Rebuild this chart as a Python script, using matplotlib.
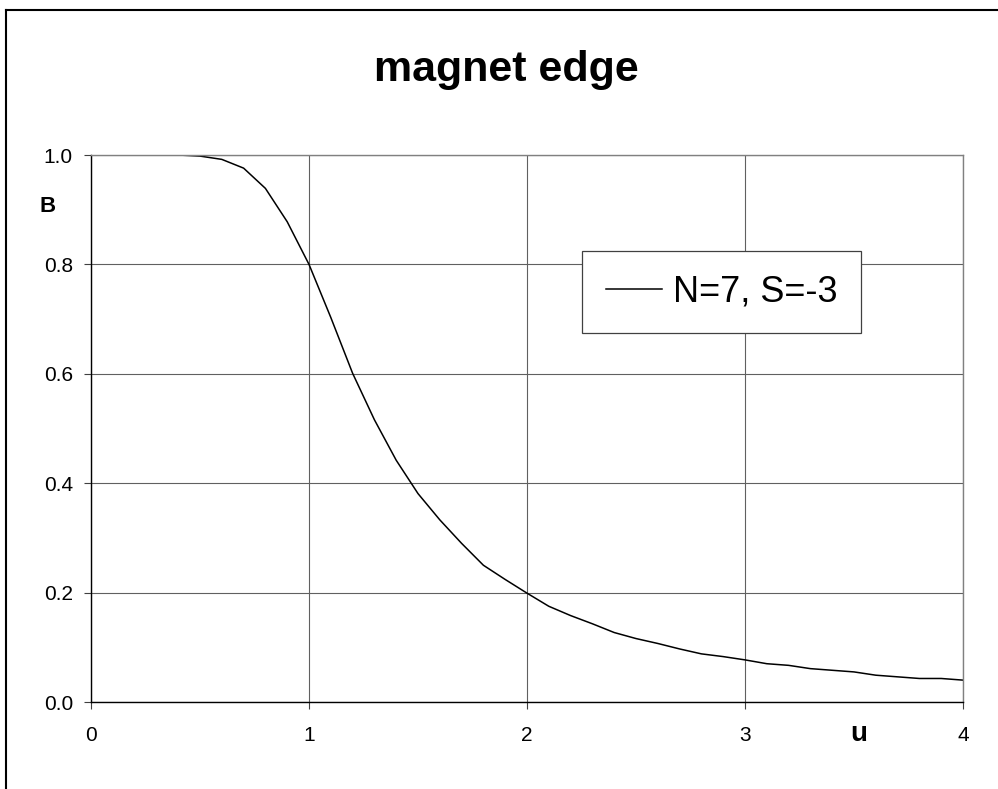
import numpy as np
import matplotlib.pyplot as plt
from matplotlib.lines import Line2D

plt.rcParams['font.family'] = ['Liberation Sans', 'DejaVu Sans']

# field profile at the magnet edge, sampled every 0.1 in u
u = [0.0, 0.1, 0.2, 0.3, 0.4, 0.5, 0.6, 0.7, 0.8, 0.9,
     1.0, 1.1, 1.2, 1.3, 1.4, 1.5, 1.6, 1.7, 1.8, 1.9,
     2.0, 2.1, 2.2, 2.3, 2.4, 2.5, 2.6, 2.7, 2.8, 2.9,
     3.0, 3.1, 3.2, 3.3, 3.4, 3.5, 3.6, 3.7, 3.8, 3.9, 4.0]
B = [1.000, 1.000, 1.000, 1.000, 1.000, 0.998, 0.992, 0.976, 0.939, 0.878,
     0.800, 0.703, 0.601, 0.516, 0.442, 0.381, 0.333, 0.290, 0.250, 0.224,
     0.199, 0.175, 0.158, 0.143, 0.127, 0.116, 0.107, 0.097, 0.088, 0.083,
     0.077, 0.070, 0.067, 0.061, 0.058, 0.055, 0.049, 0.046, 0.043, 0.043, 0.040]
serie = 'N=7, S=-3'
xticks = [0, 1, 2, 3, 4]
yticks = [0.0, 0.2, 0.4, 0.6, 0.8, 1.0]

W, H = 998, 789
fig = plt.figure(figsize=(W / 100, H / 100), dpi=100)
ax = fig.add_axes([91 / W, 87 / H, 872 / W, 547 / H])

ax.plot(u, B, color='black', lw=1.1, label=serie)

ax.set_xlim(0, 4)
ax.set_ylim(0, 1)
ax.set_xticks(xticks)
ax.set_yticks(yticks)
ax.set_xticklabels([str(t) for t in xticks])
ax.set_yticklabels([f'{t:.1f}' for t in yticks])
ax.tick_params(axis='both', direction='out', length=5, width=0.8, color='#404040', labelsize=15)
ax.tick_params(axis='x', pad=12)
ax.tick_params(axis='y', pad=8)

ax.grid(True, color='#606060', lw=0.8)
ax.set_axisbelow(True)
for s in ['left', 'bottom']:
    ax.spines[s].set_color('black')
    ax.spines[s].set_linewidth(1.0)
for s in ['top', 'right']:
    ax.spines[s].set_color('#808080')
    ax.spines[s].set_linewidth(1.0)

leg = ax.legend(loc='center', bbox_to_anchor=(0.723, 0.75), fontsize=26,
                fancybox=False, framealpha=1, edgecolor='#404040',
                handlelength=1.55, handletextpad=0.3, borderpad=0.65)
leg.get_frame().set_linewidth(0.9)

fig.text(506.5 / W, 1 - 70 / H, 'magnet edge', fontsize=31, fontweight='bold',
         ha='center', va='center')
fig.text(48 / W, 1 - 207 / H, 'B', fontsize=16, fontweight='bold',
         ha='center', va='center')
fig.text(859 / W, 1 - 734 / H, 'u', fontsize=20, fontweight='bold',
         ha='center', va='center')

# outer chart frame (top and left edges)
fig.add_artist(Line2D([6 / W, 1], [1 - 10 / H, 1 - 10 / H], color='black', lw=1.5,
                      transform=fig.transFigure))
fig.add_artist(Line2D([6 / W, 6 / W], [0, 1 - 10 / H], color='black', lw=1.5,
                      transform=fig.transFigure))

fig.savefig('out.png', dpi=100)
